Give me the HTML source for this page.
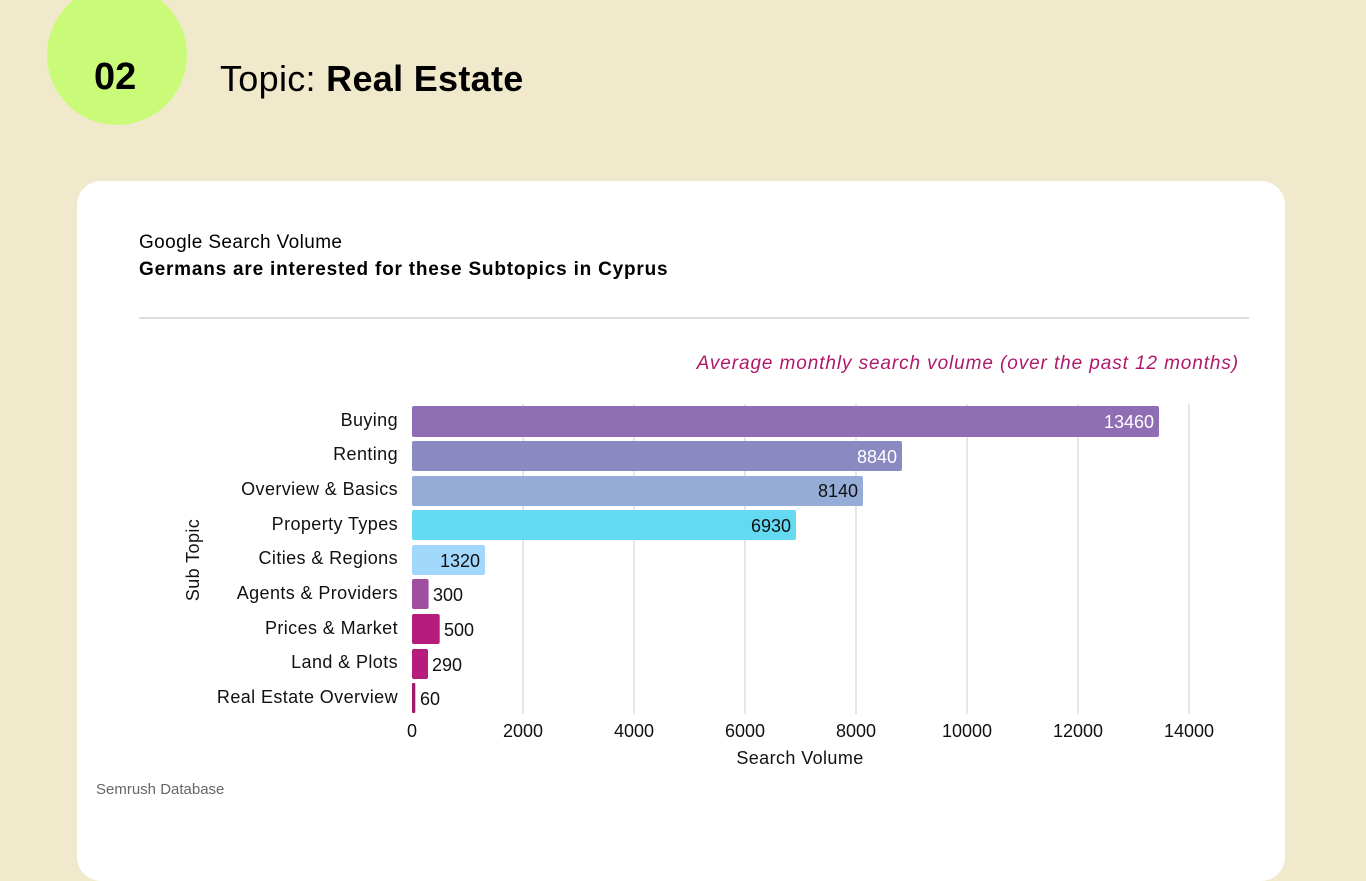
<!DOCTYPE html>
<html><head><style>
body{margin:0;width:1366px;height:833px;background:#f0e9cb;font-family:"Liberation Sans",sans-serif;position:relative;overflow:hidden}
.circ{position:absolute;left:47px;top:-15px;width:140px;height:140px;border-radius:50%;background:#c9fb78}
.num{position:absolute;left:94px;top:56px;font-size:38px;font-weight:bold;color:#000}
.topic{position:absolute;left:220px;top:58px;font-size:36px;color:#000;letter-spacing:0.3px}
.card{position:absolute;left:77px;top:181px;width:1208px;height:700px;background:#fff;border-radius:24px}
.t{position:absolute;color:#000}
</style></head><body>
<div class="circ"></div><div class="num">02</div>
<div class="topic">Topic: <b>Real Estate</b></div>
<div class="card"></div>
<div class="t" style="left:139px;top:232px;font-size:19px;letter-spacing:0.4px">Google Search Volume</div>
<div class="t" style="left:139px;top:259px;font-size:19px;font-weight:bold;letter-spacing:0.8px">Germans are interested for these Subtopics in Cyprus</div>
<div style="position:absolute;left:139px;top:317px;width:1110px;height:2px;background:#ddd"></div>
<div class="t" style="right:127px;top:353px;font-size:19px;font-style:italic;color:#b0186b;letter-spacing:0.9px">Average monthly search volume (over the past 12 months)</div>
<div class="t" style="left:96px;top:781px;font-size:15px;color:#666">Semrush Database</div>
<svg style="position:absolute;left:0;top:0" width="1366" height="833" font-family="Liberation Sans, sans-serif">
<g stroke="#ddd" stroke-width="1.5">
<line x1="523" y1="404" x2="523" y2="714"/><line x1="634" y1="404" x2="634" y2="714"/><line x1="745" y1="404" x2="745" y2="714"/><line x1="856" y1="404" x2="856" y2="714"/><line x1="967" y1="404" x2="967" y2="714"/><line x1="1078" y1="404" x2="1078" y2="714"/><line x1="1189" y1="404" x2="1189" y2="714"/>
</g>
<g>
<rect x="412" y="406" width="747" height="31" rx="2" fill="#8f6eb3"/>
<rect x="412" y="441" width="490" height="30" rx="2" fill="#8a89c2"/>
<rect x="412" y="476" width="451" height="30" rx="2" fill="#94acd6"/>
<rect x="412" y="510" width="384" height="30" rx="2" fill="#63d9f2"/>
<rect x="412" y="545" width="73" height="30" rx="2" fill="#a2d8fb"/>
<rect x="412" y="579" width="16.6" height="30" rx="2" fill="#a04ea0"/>
<rect x="412" y="614" width="27.7" height="30" rx="2" fill="#b51c7c"/>
<rect x="412" y="649" width="16" height="30" rx="2" fill="#b51c7c"/>
<rect x="412" y="683" width="3.3" height="30" rx="1" fill="#a01a6b"/>
</g>
<g font-size="18" text-anchor="end" fill="#fff">
<text x="1154" y="428">13460</text><text x="897" y="463">8840</text>
</g>
<g font-size="18" text-anchor="end" fill="#111">
<text x="858" y="497">8140</text><text x="791" y="532">6930</text><text x="480" y="567">1320</text>
</g>
<g font-size="18" fill="#111">
<text x="433" y="601">300</text><text x="444" y="636">500</text><text x="432" y="671">290</text><text x="420" y="705">60</text>
</g>
<g font-size="18" text-anchor="end" fill="#111" letter-spacing="0.4">
<text x="398" y="426">Buying</text><text x="398" y="460">Renting</text><text x="398" y="495">Overview &amp; Basics</text><text x="398" y="530">Property Types</text><text x="398" y="564">Cities &amp; Regions</text><text x="398" y="599">Agents &amp; Providers</text><text x="398" y="634">Prices &amp; Market</text><text x="398" y="668">Land &amp; Plots</text><text x="398" y="703">Real Estate Overview</text>
</g>
<g font-size="18" text-anchor="middle" fill="#111">
<text x="412" y="737">0</text><text x="523" y="737">2000</text><text x="634" y="737">4000</text><text x="745" y="737">6000</text><text x="856" y="737">8000</text><text x="967" y="737">10000</text><text x="1078" y="737">12000</text><text x="1189" y="737">14000</text>
<text x="800" y="764" letter-spacing="0.4">Search Volume</text>
<text transform="translate(199,560) rotate(-90)" letter-spacing="0.4">Sub Topic</text>
</g>
</svg>
</body></html>
